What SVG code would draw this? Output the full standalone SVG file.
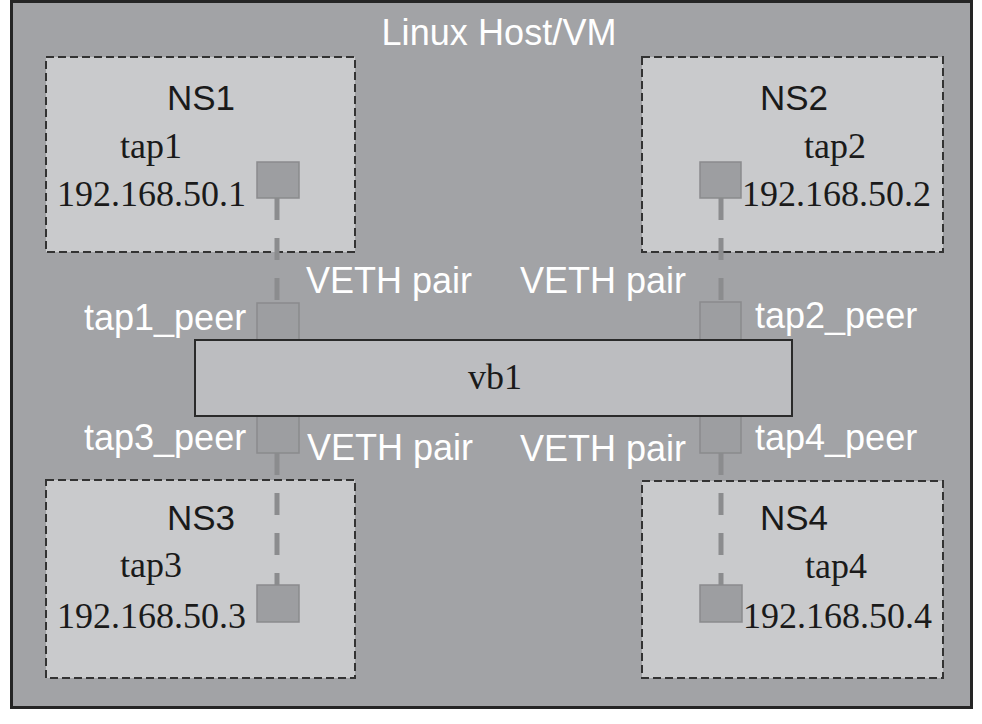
<svg xmlns="http://www.w3.org/2000/svg" width="982" height="724" viewBox="0 0 982 724">
<style>
.host{fill:#a2a3a6;stroke:#252525;stroke-width:3}
.ns{fill:#c9cacc;stroke:#333;stroke-width:2;stroke-dasharray:8 4}
.port{fill:#9d9ea1;stroke:#8a8b8d;stroke-width:1.5}
.br{fill:#bcbdc0;stroke:#2a2a2a;stroke-width:2}
.link{stroke:#8b8c8e;stroke-width:5;fill:none;stroke-dasharray:22 18}
.wt{font-family:"Liberation Sans",Arial,sans-serif;font-size:36px;fill:#ffffff}
.nt{font-family:"Liberation Sans",Arial,sans-serif;font-size:35px;fill:#1a1a1a}
.st{font-family:"Liberation Serif","Times New Roman",serif;font-size:36px;fill:#1a1a1a}
</style>
<rect width="982" height="724" fill="#ffffff"/>
<g id="host">
<rect class="host" x="11.5" y="1.5" width="960" height="706"/>
<text class="wt" x="499" y="45" text-anchor="middle" textLength="235">Linux Host/VM</text>
</g>
<g id="ns1">
<rect class="ns" x="46" y="57" width="309" height="195"/>
<text class="nt" x="167" y="110">NS1</text>
<text class="st" x="120" y="158">tap1</text>
<text class="st" x="57" y="206">192.168.50.1</text>
</g>
<g id="ns2">
<rect class="ns" x="642" y="57" width="301" height="195"/>
<text class="nt" x="760" y="110">NS2</text>
<text class="st" x="804" y="158">tap2</text>
<text class="st" x="742" y="206">192.168.50.2</text>
</g>
<g id="ns3">
<rect class="ns" x="46" y="480" width="309" height="198"/>
<text class="nt" x="167" y="530">NS3</text>
<text class="st" x="120" y="577">tap3</text>
<text class="st" x="57" y="628">192.168.50.3</text>
</g>
<g id="ns4">
<rect class="ns" x="642" y="481" width="301" height="197"/>
<text class="nt" x="760" y="530">NS4</text>
<text class="st" x="805" y="578">tap4</text>
<text class="st" x="743" y="628">192.168.50.4</text>
</g>
<g id="connectors">
<line class="link" x1="277" y1="198" x2="277" y2="303"/>
<line class="link" x1="721" y1="198" x2="721" y2="303"/>
<line class="link" x1="277" y1="453" x2="277" y2="585"/>
<line class="link" x1="721" y1="453" x2="721" y2="585"/>
<text class="wt" x="306" y="293">VETH pair</text>
<text class="wt" x="520" y="293">VETH pair</text>
<text class="wt" x="307" y="460">VETH pair</text>
<text class="wt" x="520" y="461">VETH pair</text>
</g>
<g id="tap1"><rect class="port" x="257" y="162" width="42" height="36"/></g>
<g id="tap2"><rect class="port" x="700" y="162" width="41" height="36"/></g>
<g id="tap3"><rect class="port" x="257" y="585" width="42" height="37"/></g>
<g id="tap4"><rect class="port" x="700" y="585" width="42" height="37"/></g>
<g id="tap1_peer">
<rect class="port" x="257" y="303" width="42" height="37"/>
<text class="wt" x="84" y="330">tap1_peer</text>
</g>
<g id="tap2_peer">
<rect class="port" x="700" y="302" width="41" height="38"/>
<text class="wt" x="755" y="328">tap2_peer</text>
</g>
<g id="tap3_peer">
<rect class="port" x="257" y="416" width="42" height="37"/>
<text class="wt" x="84" y="450">tap3_peer</text>
</g>
<g id="tap4_peer">
<rect class="port" x="700" y="416" width="41" height="37"/>
<text class="wt" x="755" y="450">tap4_peer</text>
</g>
<g id="vb1">
<rect class="br" x="195" y="340" width="597" height="76"/>
<text class="st" x="495" y="389" text-anchor="middle">vb1</text>
</g>
</svg>
